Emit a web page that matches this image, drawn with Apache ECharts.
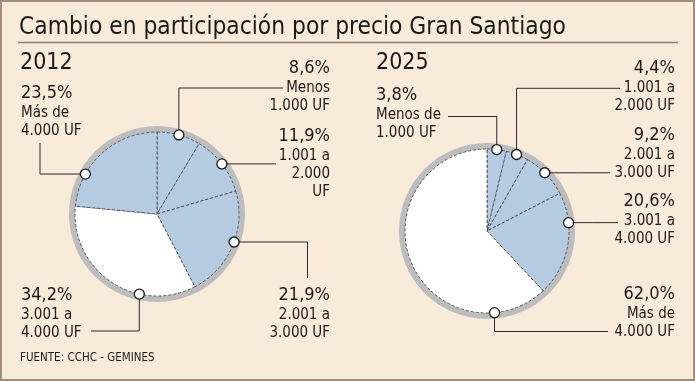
<!DOCTYPE html>
<html><head><meta charset="utf-8">
<script src="https://cdn.jsdelivr.net/npm/echarts@6/dist/echarts.min.js"></script>
<style>html,body{margin:0;padding:0;background:#f9ebd9;}#c{width:695px;height:381px;}</style>
</head><body><div id="c"></div>
<script>
// ---- data ----
const categories2012 = ['Menos\n1.000 UF', '1.001 a\n2.000\nUF', '2.001 a\n3.000 UF', '3.001 a\n4.000 UF', 'Más de\n4.000 UF'];
const values2012 = [8.6, 11.9, 21.9, 34.2, 23.5];
const categories2025 = ['Menos de\n1.000 UF', '1.001 a\n2.000 UF', '2.001 a\n3.000 UF', '3.001 a\n4.000 UF', 'Más de\n4.000 UF'];
const values2025 = [3.8, 4.4, 9.2, 20.6, 62.0];
const years = ['2012', '2025'];
const titleText = 'Cambio en participación por precio Gran Santiago';
const sourceText = 'FUENTE: CCHC - GEMINES';

// ---- layout / style ----
const FONT = '"DejaVu Sans Condensed", "DejaVu Sans", sans-serif';
const BLUE = '#b5cbe1', WHITE = '#ffffff', RING = '#bdbdbd', INK = '#1a1a1a', LINE = '#2a2a2a';
const R = 82, RING_R = 88;
const pies = [
  { cats: categories2012, vals: values2012, center: [157, 214], labels: [
    { frac: 0.5,  align: 'right', x: 330, top: 57.5, path: 'vh', py: 88,  px: 283 },
    { frac: 0.5,  align: 'right', x: 330, top: 125.5, path: 'h', px: 276 },
    { frac: 0.46, align: 'right', x: 330, top: 284, path: 'hv', px: 307.5, py: 278 },
    { frac: 0.325, align: 'left', x: 21,  top: 284, path: 'vh', py: 331, px: 91 },
    { frac: 0.28, align: 'left',  x: 21,  top: 82,  path: 'hv', px: 40, py: 143 }
  ]},
  { cats: categories2025, vals: values2025, center: [487, 231], labels: [
    { frac: 0.5,  align: 'left',  x: 376, top: 84,   path: 'vh', py: 116.5, px: 448 },
    { frac: 0.47, align: 'right', x: 675, top: 57.5, path: 'vh', py: 88.3, px: 620 },
    { frac: 0.46, align: 'right', x: 675, top: 124.5, path: 'h', px: 610 },
    { frac: 0.29, align: 'right', x: 675, top: 190.5, path: 'h', px: 618 },
    { frac: 0.17, align: 'right', x: 675, top: 283, path: 'vh', py: 331.5, px: 608 }
  ]}
];

function pctText(v) { return v.toFixed(1).replace('.', ',') + '%'; }

function anchorAngles(p) {
  let cum = 0;
  return p.vals.map((v, i) => { const a = cum + p.labels[i].frac * v; cum += v; return a; });
}

const series = [];
const polar = [], angleAxis = [], radiusAxis = [];
pies.forEach((p, pi) => {
  const sum = p.vals.reduce((a, b) => a + b, 0);
  const maxV = Math.max(...p.vals);
  const anchors = anchorAngles(p);
  // ring
  series.push({
    type: 'pie', silent: true, center: p.center, radius: [0, RING_R], z: 1,
    label: { show: false }, labelLine: { show: false }, animation: false,
    data: [{ value: 1, itemStyle: { color: RING } }]
  });
  // slices
  series.push({
    type: 'pie', center: p.center, radius: [0, R], startAngle: 90, clockwise: true, z: 2,
    animation: false, avoidLabelOverlap: false, silent: true,
    itemStyle: { borderColor: '#3a3a3a', borderWidth: 0.8, borderType: [3, 2] },
    data: p.vals.map((v, i) => ({
      name: p.cats[i], value: v,
      itemStyle: { color: v === maxV ? WHITE : BLUE }
    })),
    label: {
      show: true, position: 'outside', color: INK, fontFamily: FONT,
      formatter: (prm) => '{p|' + pctText(prm.value) + '}\n' +
        prm.name.split('\n').map(s => '{d|' + s + '}').join('\n'),
      rich: {
        p: { fontSize: 18, lineHeight: 22, fontFamily: FONT, color: INK },
        d: { fontSize: 15, lineHeight: 18, fontFamily: FONT, color: INK }
      }
    },
    labelLine: { show: true, smooth: false, lineStyle: { color: LINE, width: 1 } },
    labelLayout: (prm) => {
      const L = p.labels[prm.dataIndex];
      const th = anchors[prm.dataIndex] / sum * 2 * Math.PI;
      const ax = p.center[0] + R * Math.sin(th);
      const ay = p.center[1] - R * Math.cos(th);
      let pts;
      if (L.path === 'vh') pts = [[ax, ay], [ax, L.py], [L.px, L.py]];
      else if (L.path === 'hv') pts = [[ax, ay], [L.px, ay], [L.px, L.py]];
      else pts = [[ax, ay], [(ax + L.px) / 2, ay], [L.px, ay]];
      return { x: L.x, y: L.top, align: L.align, verticalAlign: 'top', labelLinePoints: pts };
    }
  });
  polar.push({ center: p.center, radius: R });
  angleAxis.push({ polarIndex: pi, type: 'value', min: 0, max: sum, startAngle: 90, clockwise: true, show: false });
  radiusAxis.push({ polarIndex: pi, type: 'value', min: 0, max: 1, show: false });
  series.push({
    type: 'scatter', coordinateSystem: 'polar', polarIndex: pi, z: 10, silent: true, animation: false,
    symbol: 'circle', symbolSize: 10,
    itemStyle: { color: '#ffffff', borderColor: '#1a1a1a', borderWidth: 1.3, opacity: 1 },
    data: anchors.map(a => [1, a])
  });
});

const chart = echarts.init(document.getElementById('c'), null, { renderer: 'canvas' });
chart.setOption({
  backgroundColor: '#f9ebd9',
  animation: false,
  title: [
    { text: titleText, left: 19, top: 16, padding: 0, textStyle: { fontFamily: FONT, fontSize: 24.3, fontWeight: 'normal', color: INK, lineHeight: 24 } },
    { text: years[0], left: 20, top: 52, padding: 0, textStyle: { fontFamily: FONT, fontSize: 23, fontWeight: 'normal', color: INK, lineHeight: 23 } },
    { text: years[1], left: 376, top: 52, padding: 0, textStyle: { fontFamily: FONT, fontSize: 23, fontWeight: 'normal', color: INK, lineHeight: 23 } },
    { text: sourceText, left: 20, top: 352.5, padding: 0, textStyle: { fontFamily: FONT, fontSize: 11.5, fontWeight: 'normal', color: INK, lineHeight: 12 } }
  ],
  polar, angleAxis, radiusAxis,
  graphic: [
    { type: 'rect', silent: true, shape: { x: 1, y: 1, width: 693, height: 379 }, style: { fill: 'none', stroke: '#a48c7c', lineWidth: 2 } },
    { type: 'line', silent: true, shape: { x1: 18, y1: 42.5, x2: 678, y2: 42.5 }, style: { stroke: '#8a7f74', lineWidth: 1.5 } }
  ],
  series
});
</script>
</body></html>
